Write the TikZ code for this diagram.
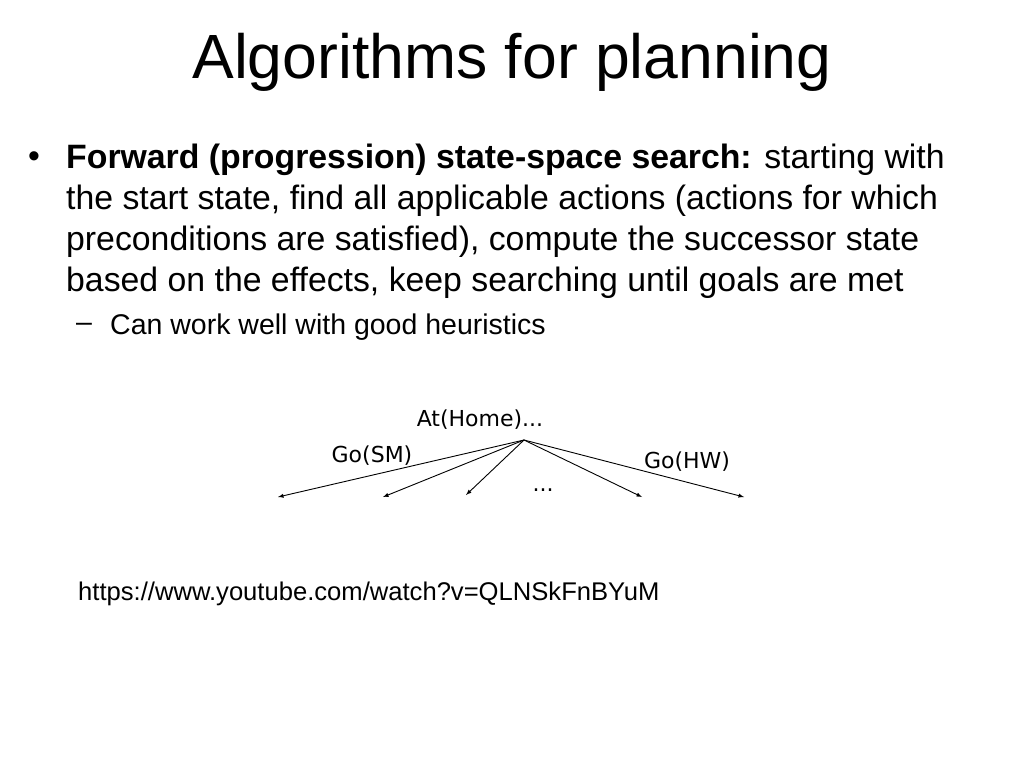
\documentclass[tikz,border=0pt]{standalone}
\usepackage{fontspec}
\setmainfont{Liberation Sans}
\newfontfamily\diafont{DejaVu Sans}
\usetikzlibrary{positioning}
\tikzstyle{txt}=[anchor=west, inner sep=0pt, font=\fontsize{33.8}{40}\selectfont]
\tikzstyle{lab}=[inner sep=0pt, font=\diafont\fontsize{22}{26}\selectfont]
\tikzstyle{edge}=[-latex, line width=0.9pt]
\begin{document}
\begin{tikzpicture}[x=1pt,y=-1pt]
      \useasboundingbox (0,0) rectangle (1024,768);
      \node [inner sep=0pt, font=\fontsize{62.5}{72}\selectfont] (title) at (512,62) {Algorithms for planning};
      \node [txt] (b1) at (28,160) {\textbullet};
      \node [txt] (l1) at (66,160) {\textbf{Forward (progression) state-space search:} starting with};
      \node [txt] (l2) at (66,201) {the start state, find all applicable actions (actions for which};
      \node [txt] (l3) at (66,242) {preconditions are satisfied), compute the successor state};
      \node [txt] (l4) at (66,283) {based on the effects, keep searching until goals are met};
      \node [txt, font=\fontsize{28.5}{32}\selectfont] (b2) at (76,327) {--};
      \node [txt, font=\fontsize{28.5}{32}\selectfont] (sub) at (110,327) {Can work well with good heuristics};
      \node [lab] (root) at (480,420) {At(Home)...};
      \coordinate (r) at (524,440);
      \coordinate (c1) at (278,497);
      \coordinate (c2) at (383,497);
      \coordinate (c3) at (466,495);
      \coordinate (c4) at (642,497);
      \coordinate (c5) at (744,497);
      \node [lab] (gosm) at (372,456) {Go(SM)};
      \node [lab] (gohw) at (687,462) {Go(HW)};
      \node [lab] (dots) at (543,490) {...};
      \foreach \c in {c1,c2,c3,c4,c5}
        \draw [edge] (r) -- (\c);
      \node [txt, font=\fontsize{25.6}{30}\selectfont] (url) at (78,594) {https://www.youtube.com/watch?v=QLNSkFnBYuM};
\end{tikzpicture}
\end{document}
